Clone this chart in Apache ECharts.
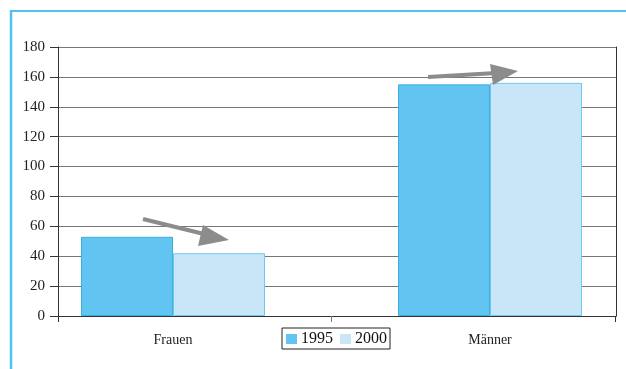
<!DOCTYPE html>
<html>
<head>
<meta charset="utf-8">
<script src="https://cdn.jsdelivr.net/npm/echarts@6/dist/echarts.min.js"></script>
<style>
  html, body { margin: 0; padding: 0; background: #fff; }
  #chart { width: 626px; height: 369px; }
</style>
</head>
<body>
<div id="chart"></div>
<script>
// Categories and the two survey years
const categories = ['Frauen', 'Männer'];
const years = ['1995', '2000'];
const values1995 = [53, 155];
const values2000 = [42, 156];
// Value axis range and step
const yMin = 0;
const yMax = 180;
const yStep = 20;

const serif = 'Liberation Serif';
const axisGray = '#333';
const gridGray = '#777';
const arrowGray = '#8c8c8c';
const frameBlue = '#4ec3f1';

// The category axis gets an unlabeled slot between the two groups,
// which carries the single divider tick.
const axisCategories = [categories[0], '', categories[1]];
const withSpacer = arr => [arr[0], null, arr[1]];

const chart = echarts.init(document.getElementById('chart'));

chart.setOption({
  animation: false,
  backgroundColor: '#fff',
  grid: [
    // frame grid: value axis, split lines, closing lines
    { left: 58, right: 10, top: 47, bottom: 53 },
    // bar grid: its two ends are the group centres
    { left: 173, right: 136, top: 47, bottom: 53 }
  ],
  xAxis: [
    {
      gridIndex: 0, type: 'value', min: 0, max: 1,
      axisLine: { show: true, onZero: false, lineStyle: { color: axisGray, width: 1 } },
      axisTick: { show: false }, axisLabel: { show: false }, splitLine: { show: false }
    },
    {
      gridIndex: 1, type: 'category', data: axisCategories, boundaryGap: false,
      axisLine: { show: false },
      axisTick: { show: true, interval: function (i) { return i === 1; }, length: 6, lineStyle: { color: gridGray } },
      axisLabel: { fontFamily: serif, fontSize: 14, color: '#222', margin: 17, interval: 0 },
      splitLine: { show: false }
    }
  ],
  yAxis: [
    {
      gridIndex: 0, type: 'value', min: yMin, max: yMax, interval: yStep,
      axisLine: { show: true, lineStyle: { color: axisGray, width: 1 } },
      axisTick: { show: true, length: 8, lineStyle: { color: axisGray } },
      axisLabel: { fontFamily: serif, fontSize: 15, color: '#222', margin: 13 },
      splitLine: { show: true, lineStyle: { color: gridGray, width: 1 } }
    },
    {
      gridIndex: 1, type: 'value', min: yMin, max: yMax, show: false
    },
    {
      gridIndex: 0, type: 'value', min: yMin, max: yMax, position: 'right',
      axisLine: { show: true, lineStyle: { color: axisGray, width: 1 } },
      axisTick: { show: false }, axisLabel: { show: false }, splitLine: { show: false }
    }
  ],
  legend: {
    data: years,
    left: 282, top: 328,
    orient: 'horizontal',
    icon: 'rect',
    itemWidth: 11, itemHeight: 10,
    itemGap: 7,
    padding: [3, 3, 2, 4],
    borderColor: '#222', borderWidth: 1,
    itemStyle: { borderWidth: 0 },
    textStyle: { fontFamily: serif, fontSize: 16, color: '#111', padding: [0, 0, 0, -1] }
  },
  series: [
    {
      name: years[0], type: 'bar', xAxisIndex: 1, yAxisIndex: 1,
      data: withSpacer(values1995), barWidth: 92, barGap: '0%', clip: false,
      itemStyle: { color: '#62c4f0', borderColor: '#3aafe0', borderWidth: 1 }
    },
    {
      name: years[1], type: 'bar', xAxisIndex: 1, yAxisIndex: 1,
      data: withSpacer(values2000), barWidth: 92, barGap: '0%', clip: false,
      itemStyle: { color: '#c8e6f7', borderColor: '#70c8ea', borderWidth: 1 }
    }
  ],
  graphic: [
    // outer frame: top and left blue rule
    { type: 'line', shape: { x1: 10, y1: 11, x2: 626, y2: 11 }, style: { stroke: frameBlue, lineWidth: 2 }, z: 200 },
    { type: 'line', shape: { x1: 11, y1: 10, x2: 11, y2: 369 }, style: { stroke: frameBlue, lineWidth: 2.5 }, z: 200 },
    // vertical axis lines run a little past the base line
    { type: 'line', shape: { x1: 58.5, y1: 316, x2: 58.5, y2: 322 }, style: { stroke: axisGray, lineWidth: 1 } },
    { type: 'line', shape: { x1: 615.5, y1: 316, x2: 615.5, y2: 322 }, style: { stroke: axisGray, lineWidth: 1 } },
    // trend arrow over Frauen (falling)
    { type: 'line', shape: { x1: 143, y1: 219, x2: 208, y2: 235 }, style: { stroke: arrowGray, lineWidth: 4 }, z: 100 },
    { type: 'polygon', shape: { points: [[203, 225], [229, 240], [198, 246]] }, style: { fill: arrowGray }, z: 100 },
    // trend arrow over Männer (rising)
    { type: 'line', shape: { x1: 428, y1: 77, x2: 496, y2: 73 }, style: { stroke: arrowGray, lineWidth: 4 }, z: 100 },
    { type: 'polygon', shape: { points: [[490, 64], [518, 71], [493, 85]] }, style: { fill: arrowGray }, z: 100 }
  ]
});
</script>
</body>
</html>
